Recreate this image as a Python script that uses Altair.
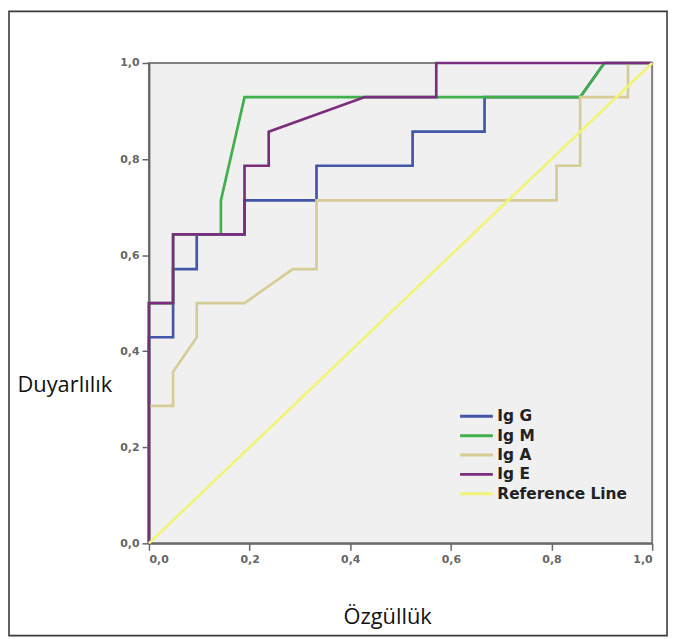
import altair as alt
import pandas as pd

# ROC curve points (x = 1 - specificity, y = sensitivity)
igg_x = [0, 0, 0.048, 0.048, 0.095, 0.095, 0.190, 0.190, 0.333, 0.333, 0.524, 0.524, 0.667, 0.667, 0.857, 0.905, 1.0]
igg_y = [0, 0.429, 0.429, 0.571, 0.571, 0.643, 0.643, 0.714, 0.714, 0.786, 0.786, 0.857, 0.857, 0.929, 0.929, 1.0, 1.0]

igm_x = [0, 0, 0.048, 0.048, 0.143, 0.143, 0.190, 0.857, 0.905, 1.0]
igm_y = [0, 0.5, 0.5, 0.643, 0.643, 0.714, 0.929, 0.929, 1.0, 1.0]

iga_x = [0, 0, 0.048, 0.048, 0.095, 0.095, 0.190, 0.286, 0.333, 0.333, 0.810, 0.810, 0.857, 0.857, 0.952, 0.952, 1.0]
iga_y = [0, 0.286, 0.286, 0.357, 0.429, 0.5, 0.5, 0.571, 0.571, 0.714, 0.714, 0.786, 0.786, 0.929, 0.929, 1.0, 1.0]

ige_x = [0, 0, 0.048, 0.048, 0.190, 0.190, 0.238, 0.238, 0.429, 0.571, 0.571, 1.0]
ige_y = [0, 0.5, 0.5, 0.643, 0.643, 0.786, 0.786, 0.857, 0.929, 0.929, 1.0, 1.0]

ref_x = [0, 1.0]
ref_y = [0, 1.0]

series_names = ["Ig G", "Ig M", "Ig A", "Ig E", "Reference Line"]
series_colors = ["#4257A8", "#41AF4B", "#D6CC95", "#7B2D7E", "#F2F47A"]
tick_values = [0, 0.2, 0.4, 0.6, 0.8, 1.0]

rows = []
for name, xs, ys in zip(series_names,
                        [igg_x, igm_x, iga_x, ige_x, ref_x],
                        [igg_y, igm_y, iga_y, ige_y, ref_y]):
    for i, (a, b) in enumerate(zip(xs, ys)):
        rows.append({"series": name, "i": i, "x": a, "y": b})
df = pd.DataFrame(rows)

label_expr = "replace(format(datum.value, '.1f'), '.', ',')"

lines = alt.Chart(df).mark_line(strokeWidth=2.7, clip=False).encode(
    x=alt.X("x:Q", scale=alt.Scale(domain=[0, 1], nice=False),
            axis=alt.Axis(values=tick_values, labelExpr=label_expr, grid=False,
                          title="Özgüllük", titleX=240, titleY=81,
                          titleAlign="center", titleBaseline="alphabetic")),
    y=alt.Y("y:Q", scale=alt.Scale(domain=[0, 1], nice=False),
            axis=alt.Axis(values=tick_values, labelExpr=label_expr, grid=False,
                          title="Duyarlılık", titleAngle=0, titleX=-133, titleY=331,
                          titleAlign="left", titleBaseline="alphabetic")),
    color=alt.Color("series:N",
                    scale=alt.Scale(domain=series_names, range=series_colors),
                    sort=series_names,
                    legend=alt.Legend(title=None, orient="none", legendX=320, legendY=346,
                                      symbolType="M-2,0H2", symbolSize=272,
                                      symbolStrokeWidth=3, labelOffset=11,
                                      rowPadding=0.5,
                                      labelFont="DejaVu Sans", labelFontSize=15.5,
                                      labelFontWeight="bold", labelColor="#222222")),
    order=alt.Order("i:Q"),
)

frame = alt.Chart(alt.Data(values=[{}])).mark_rect(
    fill="transparent", stroke="#3a3a3a", strokeWidth=1.6
).encode(
    x=alt.value(-141), x2=alt.value(522), y=alt.value(-52), y2=alt.value(577)
)

chart = alt.layer(frame, lines).properties(
    width=507, height=484,
    autosize=alt.AutoSizeParams(type="none"),
    padding={"left": 142, "top": 53, "right": 18, "bottom": 95},
    background="white",
).configure_view(
    fill="#F0F0F0", stroke="#808080", strokeWidth=2
).configure_axis(
    domainColor="#666666", domainWidth=2, tickColor="#666666", tickWidth=1.5,
    tickSize=7, labelPadding=3,
    labelFont="DejaVu Sans", labelFontSize=11, labelFontWeight="bold", labelColor="#666666",
    titleFont="Open Sans", titleFontSize=22, titleFontWeight="normal", titleColor="#111111",
)

chart.save("out.html", embed_options={"renderer": "svg", "actions": False})
